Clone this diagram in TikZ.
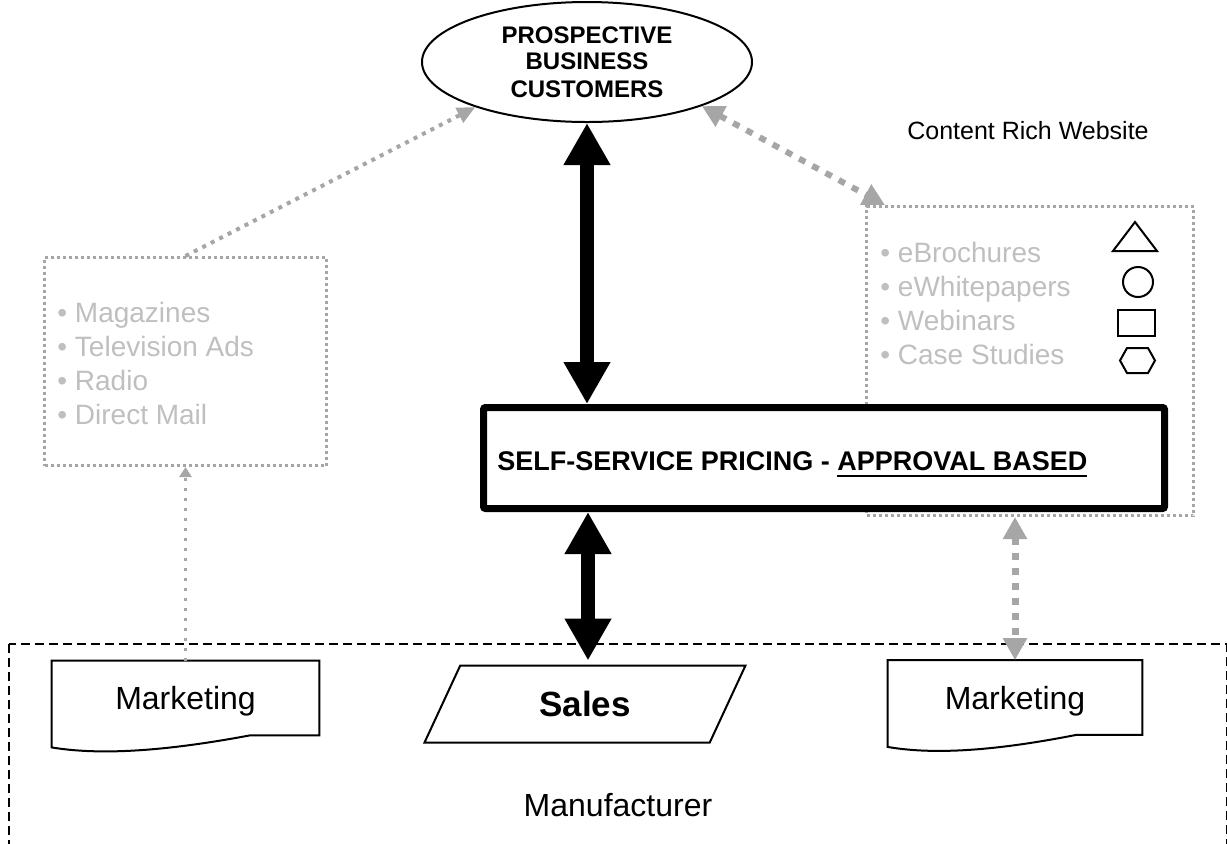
\documentclass[tikz,border=0pt]{standalone}
\usepackage{fontspec}
\setmainfont{Liberation Sans}
\usetikzlibrary{shapes.geometric,arrows.meta,calc}
\definecolor{linegray}{HTML}{A6A6A6}
\definecolor{textgray}{HTML}{BFBFBF}
% underline with a heavier rule
\newcommand{\thickul}[1]{\setbox0\hbox{#1}\rlap{\vrule height -2.5pt depth 3.5pt width \wd0}\box0}

\begin{document}
\begin{tikzpicture}[x=0.5pt, y=-0.5pt,
    every node/.style={inner sep=0pt},
    dotbox/.style={draw=linegray, line width=1.5pt, dash pattern=on 1.5pt off 1.5pt},
    graylist/.style={text=textgray, align=left, font=\fontsize{14}{17}\selectfont},
    docnode/.style={minimum height=37pt, text depth=0pt, font=\fontsize{16}{19}\selectfont},
    bigarrow/.style={line width=7pt, {Triangle[width=22pt,length=21pt]}-{Triangle[width=22pt,length=21pt]}}]
  \useasboundingbox (0,0) rectangle (1227,843);
  \clip (0,0) rectangle (1227,843);

  % manufacturer frame
  \draw[line width=1pt, dash pattern=on 4.5pt off 2.5pt] (9,644) rectangle (1226.5,900);
  \node[font=\fontsize{16}{19}\selectfont] (maker) at (618,805) {Manufacturer};

  % customers
  \node[ellipse, draw, line width=1pt, minimum width=165pt, minimum height=60pt, align=center,
        font=\bfseries\fontsize{12}{14}\selectfont] (customers) at (587,62) {\raisebox{-1pt}{PROSPECTIVE}\\BUSINESS\\CUSTOMERS};

  % media channels
  \node[dotbox, minimum width=141pt, minimum height=104pt] (media) at (185.5,361.5) {};
  \node[graylist, anchor=north west] (medialist) at (57,301.5) {• Magazines\\• Television Ads\\• Radio\\• Direct Mail};

  % website content
  \node[font=\fontsize{12.5}{15}\selectfont] (sitelabel) at (1028,131) {Content Rich Website};
  \node[dotbox, minimum width=163.5pt, minimum height=154.5pt] (website) at (1030,361) {};
  \node[graylist, anchor=north west] (sitelist) at (880,242) {• eBrochures\\• eWhitepapers\\• Webinars\\• Case Studies};
  \draw[line width=1pt] (1113,251) -- (1135,222) -- (1157,251) -- cycle;
  \draw[line width=1pt] (1138,282) circle[radius=7.5pt];
  \draw[line width=1pt] (1118,310) rectangle (1155,336);
  \draw[line width=1pt] (1120,360.5) -- (1127,348) -- (1148,348) -- (1155,360.5) -- (1148,373) -- (1127,373) -- cycle;

  % pricing
  \node[draw, line width=3.5pt, fill=white, rounded corners=1pt, minimum width=340.5pt, minimum height=50.5pt] (pricing) at (824,458) {};
  \node[anchor=base west, font=\bfseries\fontsize{13.5}{16}\selectfont] (pricingtext) at ($(pricing.west)+(17,12)$)
    {SELF-SERVICE PRICING - \thickul{APPROVAL BASED}};

  % departments
  \node[docnode, minimum width=133.5pt] (mktL) at (185.5,698) {Marketing};
  \node[docnode, minimum width=127pt] (mktR) at (1015,697.5) {Marketing};
  \foreach \d in {mktL,mktR} {
    \draw[line width=1pt] (\d.south east) -- (\d.north east) -- (\d.north west) -- ([yshift=-6pt]\d.south west)
      .. controls ($(\d.south west)!0.18!(\d.south east)+(0,-10pt)$) and ($(\d.south west)!0.42!(\d.south east)+(0,-8pt)$)
      .. ($(\d.south west)!0.74!(\d.south east)$) -- cycle;
  }
  \node[trapezium, draw, line width=1pt, trapezium left angle=63, trapezium right angle=117,
        minimum width=161.5pt, minimum height=38.5pt, trapezium stretches=true,
        font=\bfseries\fontsize{17.5}{20}\selectfont] (sales) at (585,704) {Sales};

  % connectors
  \draw[bigarrow] (customers.south) -- (customers.south |- pricing.north);
  \draw[bigarrow, shorten >=2pt] ([xshift=1.5pt]sales.north |- pricing.south) -- ([xshift=1.5pt]sales.north);
  \draw[linegray, line width=2pt, dash pattern=on 2pt off 2.75pt, -{Triangle[width=8pt,length=9pt]}] (media.north) -- (customers.202);
  \draw[linegray, line width=3pt, dash pattern=on 3.5pt off 4pt, {Triangle[width=11pt,length=11pt]}-{Triangle[width=11pt,length=11pt]}]
    (customers.339) -- ([xshift=10pt]website.north west);
  \draw[linegray, line width=1.5pt, dash pattern=on 1.5pt off 3.5pt, -{Triangle[width=6pt,length=5pt]}] (mktL.north) -- (media.south);
  \draw[linegray, line width=3.5pt, dash pattern=on 3.5pt off 4pt, {Triangle[width=11.5pt,length=11pt]}-{Triangle[width=11.5pt,length=11pt]}]
    (mktR.north |- website.south) -- (mktR.north);
\end{tikzpicture}
\end{document}
